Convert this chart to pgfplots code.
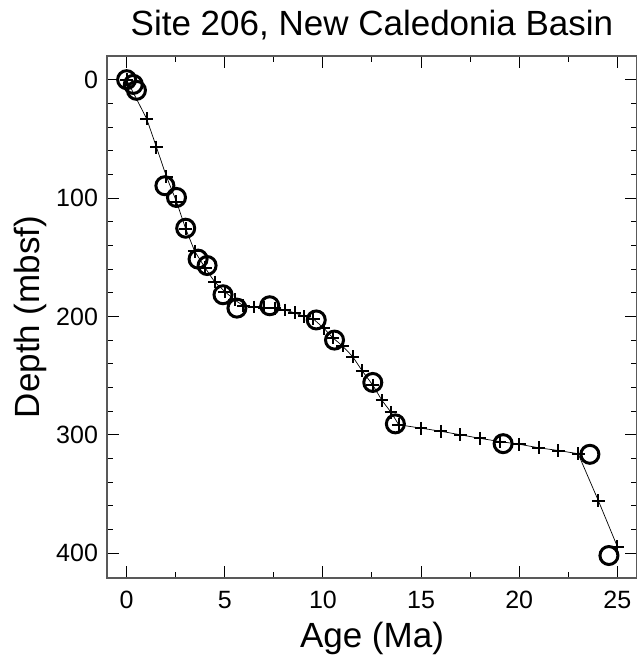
\documentclass[border=0pt]{standalone}
\usepackage{fontspec}
\setmainfont{Liberation Sans}
\usepackage{pgfplots}
\pgfplotsset{compat=1.18}

\begin{document}
\begin{tikzpicture}
  \begin{axis}[
      name=main,
      scale only axis,
      width=265pt, height=261pt,
      xmin=-1, xmax=26,
      ymin=-20, ymax=421,
      y dir=reverse,
      xtick={0,5,...,25},
      ytick={0,100,...,400},
      minor x tick num=1,
      minor y tick num=4,
      tick align=inside,
      major tick length=6pt,
      minor tick length=3pt,
      axis line style={black!65, line width=0.6pt},
      every tick/.style={black, line width=0.5pt},
      /pgf/number format/assume math mode=true,
      ticklabel style={font=\fontsize{12.5}{14}\selectfont},
      xticklabel style={yshift=-3pt},
      yticklabel style={xshift=-1pt},
      title={Site 206, New Caledonia Basin},
      every axis title/.style={font=\fontsize{17.5}{20}\selectfont,
        at={(axis description cs:0.5,1)}, anchor=center, yshift=15.5pt},
      xlabel={Age (Ma)},
      ylabel={Depth (mbsf)},
      every axis x label/.style={font=\fontsize{17.5}{20}\selectfont,
        at={(axis description cs:0.5,0)}, anchor=center, yshift=-30pt},
      every axis y label/.style={font=\fontsize{17.5}{20}\selectfont,
        at={([xshift=-38.5pt]axis description cs:0,0.5)}, anchor=center, rotate=90},
    ]

    % age model (line through the plus markers)
    \addplot[black, line width=0.35pt, mark=+, mark size=3.2pt,
             mark options={line width=1pt}]
      coordinates {
        (0,0) (1.02,33) (1.52,57) (2.03,82) (2.54,103) (3.01,126)
        (3.47,145) (4.0,159) (4.49,171) (5.0,179) (5.5,186) (5.95,191)
        (6.5,192) (7.0,192.5) (7.54,193) (8.05,194.5) (8.56,197)
        (9.06,200) (9.5,202) (10.05,210) (10.5,218) (11.0,225)
        (11.52,234) (12.0,246) (12.54,258) (13.01,271) (13.47,281)
        (13.86,291.5) (15,294.4) (16,297) (17,300) (18,303) (19,305.7)
        (20,308) (21,311) (22,313.3) (23,316) (24.03,355.6) (25,394.5)
      };

    % datums
    \addplot[only marks, black, mark=o, mark size=4.5pt,
             mark options={line width=1.5pt}]
      coordinates {
        (0,0) (0.34,4) (0.5,9) (1.95,89.6) (2.54,99.5) (3.01,125.5)
        (3.64,151.6) (4.1,157) (4.91,181.7) (5.62,193) (7.29,191)
        (9.66,203) (10.59,220) (12.54,255.8) (13.69,290.8)
        (19.18,307.5) (23.6,316.5) (24.57,402)
      };
  \end{axis}
  \pgfresetboundingbox
  \useasboundingbox ([xshift=-53.5pt, yshift=-43pt]main.south west)
                    rectangle ([yshift=28pt]main.north east);
\end{tikzpicture}
\end{document}
